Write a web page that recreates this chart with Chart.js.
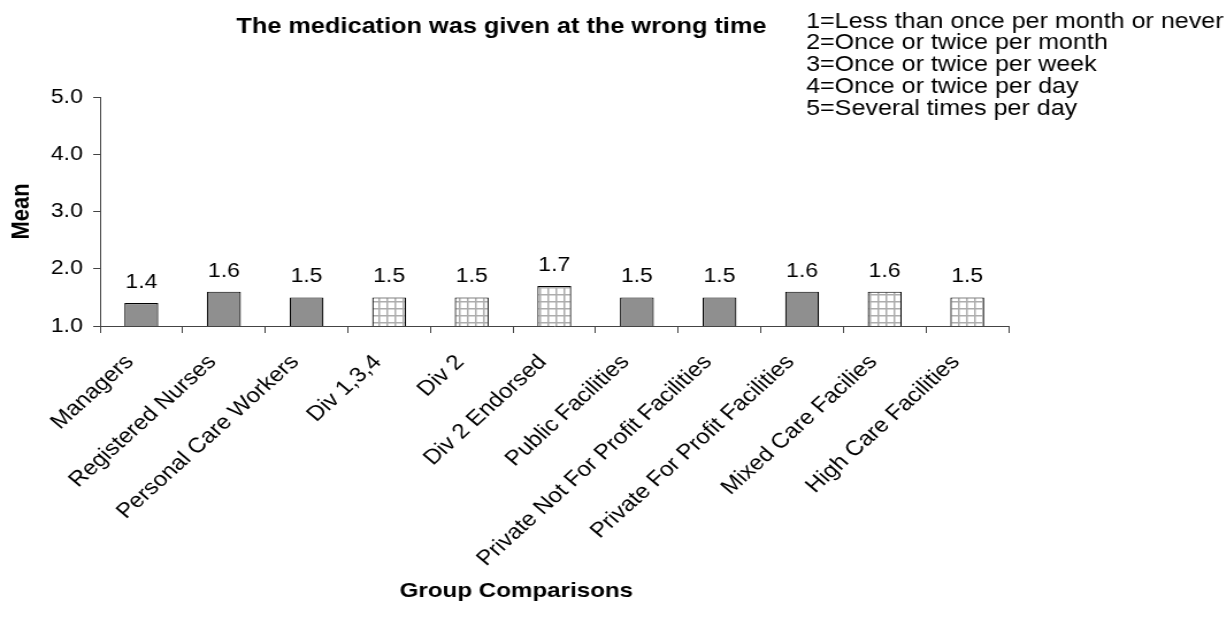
<!DOCTYPE html>
<html lang="en">
<head>
    <meta charset="UTF-8">
    <title>The medication was given at the wrong time</title>
    <script src="https://cdn.jsdelivr.net/npm/chart.js"></script>
    <style>
        body { margin: 0; background: white; overflow: hidden; }
        /* the reference is drawn a little wider than tall, so stretch the canvas */
        #wrap { transform: scaleX(1.15); transform-origin: 0 0; width: 1067px; height: 632px; }
        #chart { display: block; }
    </style>
</head>
<body>
<div id="wrap"><canvas id="chart" width="1067" height="632"></canvas></div>
<script>
    // Data
    const categories = ['Managers', 'Registered Nurses', 'Personal Care Workers', 'Div 1,3,4', 'Div 2',
        'Div 2 Endorsed', 'Public Facilities', 'Private Not For Profit Facilities',
        'Private For Profit Facilities', 'Mixed Care Facilies', 'High Care Facilities'];
    const means = [1.4, 1.6, 1.5, 1.5, 1.5, 1.7, 1.5, 1.5, 1.6, 1.6, 1.5];
    const hatched = [false, false, false, true, true, true, false, false, false, true, true];
    const yTicks = [1, 2, 3, 4, 5];
    const scaleNotes = ['1=Less than once per month or never', '2=Once or twice per month',
        '3=Once or twice per week', '4=Once or twice per day', '5=Several times per day'];

    const FONT = '"Liberation Sans", Arial, sans-serif';

    // light grey grid pattern for the hatched bars
    function gridPattern() {
        const c = document.createElement('canvas');
        c.width = 7; c.height = 7;
        const g = c.getContext('2d');
        g.fillStyle = '#ffffff';
        g.fillRect(0, 0, 7, 7);
        g.fillStyle = '#adadad';
        g.fillRect(0, 0, 7, 1.5);
        g.fillRect(0, 0, 1.5, 7);
        return g.createPattern(c, 'repeat');
    }
    const hatch = gridPattern();

    // value labels, titles and the scale legend
    const textPlugin = {
        id: 'texts',
        afterDatasetsDraw(chart) {
            const ctx = chart.ctx;
            const area = chart.chartArea;
            const meta = chart.getDatasetMeta(0);
            ctx.save();
            ctx.fillStyle = '#000';
            ctx.font = '20px ' + FONT;
            ctx.textAlign = 'center';
            ctx.textBaseline = 'alphabetic';
            meta.data.forEach((bar, i) => {
                ctx.fillText(means[i].toFixed(1), bar.x, bar.y - 15);
            });

            ctx.font = 'bold 22px ' + FONT;
            ctx.fillText('The medication was given at the wrong time', 436, 33);
            ctx.font = 'bold 21px ' + FONT;
            ctx.fillText('Group Comparisons', 449, 597);

            ctx.save();
            ctx.font = 'bold 22px ' + FONT;
            ctx.translate(25, (area.top + area.bottom) / 2);
            ctx.rotate(-Math.PI / 2);
            ctx.fillText('Mean', 0, 0);
            ctx.restore();

            ctx.font = '21.8px ' + FONT;
            ctx.textAlign = 'left';
            scaleNotes.forEach((t, i) => {
                ctx.fillText(t, 701, 27.5 + i * 21.8);
            });
            ctx.restore();
        }
    };

    new Chart(document.getElementById('chart'), {
        type: 'bar',
        data: {
            labels: categories,
            datasets: [{
                data: means,
                backgroundColor: hatched.map(h => h ? hatch : '#8f8f8f'),
                borderColor: '#000',
                borderWidth: 1.2,
                barPercentage: 0.41,
                categoryPercentage: 1
            }]
        },
        options: {
            responsive: false,
            animation: false,
            devicePixelRatio: 1,
            layout: { padding: { top: 97, right: 190, left: 0, bottom: 0 } },
            plugins: {
                legend: { display: false },
                tooltip: { enabled: false }
            },
            scales: {
                x: {
                    afterFit(scale) { scale.height = 306; },
                    grid: { drawOnChartArea: false, color: '#444', tickLength: 7, offset: true },
                    border: { color: '#444' },
                    ticks: {
                        color: '#000', font: { family: FONT, size: 21 },
                        minRotation: 46, maxRotation: 46, autoSkip: false,
                        padding: 17, labelOffset: -10
                    }
                },
                y: {
                    min: 1, max: 5,
                    afterFit(scale) { scale.width = 87; },
                    afterBuildTicks(axis) { axis.ticks = yTicks.map(v => ({ value: v })); },
                    grid: { drawOnChartArea: false, color: '#444', tickLength: 6 },
                    border: { color: '#444' },
                    ticks: {
                        color: '#000', font: { family: FONT, size: 20 }, padding: 9,
                        callback: v => v.toFixed(1)
                    }
                }
            }
        },
        plugins: [textPlugin]
    });
</script>
</body>
</html>
